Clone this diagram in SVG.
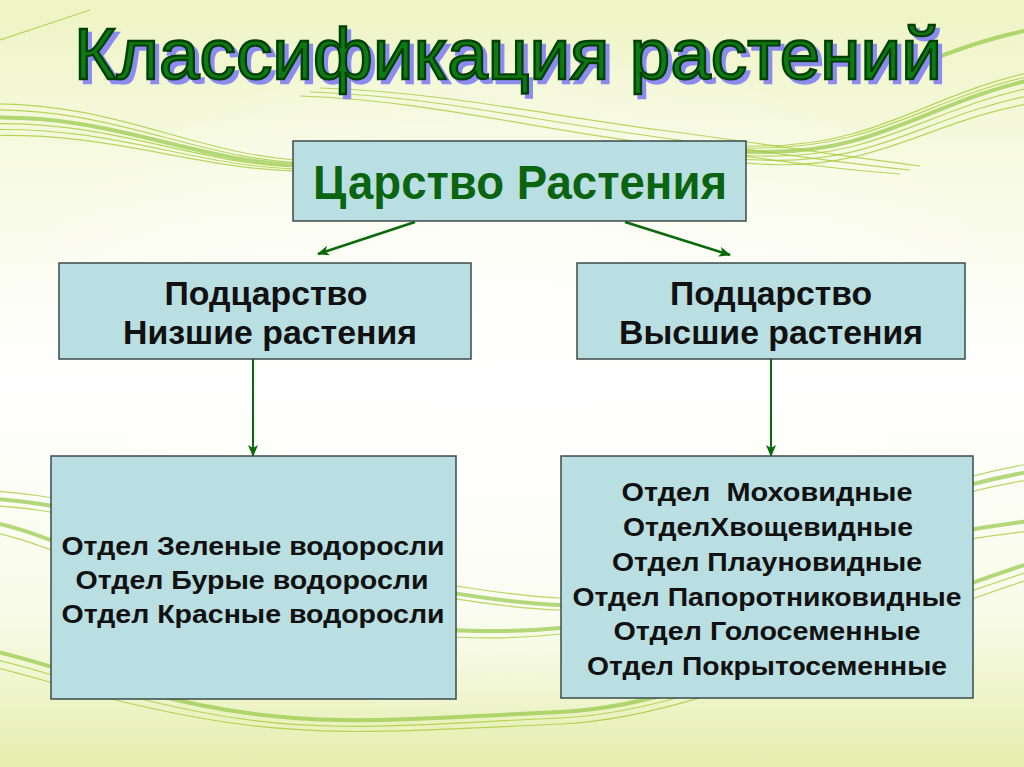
<svg xmlns="http://www.w3.org/2000/svg" width="1024" height="767" viewBox="0 0 1024 767">
<defs>
<linearGradient id="bg" x1="0" y1="0" x2="0" y2="1">
<stop offset="0" stop-color="#eef4c4"/>
<stop offset="0.25" stop-color="#f8fbe6"/>
<stop offset="0.5" stop-color="#ffffff"/>
<stop offset="0.8" stop-color="#f8fbe8"/>
<stop offset="1" stop-color="#e5eeae"/>
</linearGradient>
<radialGradient id="glow" cx="0.5" cy="0.5" r="0.55">
<stop offset="0" stop-color="#ffffff" stop-opacity="0.9"/>
<stop offset="1" stop-color="#ffffff" stop-opacity="0"/>
</radialGradient>
<filter id="shadow" x="-5%" y="-20%" width="110%" height="150%">
<feOffset in="SourceAlpha" dx="4" dy="4" result="o"/>
<feFlood flood-color="#8c8cf0"/>
<feComposite in2="o" operator="in" result="s"/>
<feMerge><feMergeNode in="s"/><feMergeNode in="SourceGraphic"/></feMerge>
</filter>
<marker id="ah" viewBox="0 0 12 10" refX="11" refY="5" markerWidth="12" markerHeight="10" markerUnits="userSpaceOnUse" orient="auto">
<path d="M0,0 L12,5 L0,10 L3,5 Z" fill="#0a6a0a"/>
</marker>
<style>
.box{fill:#badfe2;stroke:#3c4a4a;stroke-width:1.5}
.t{font-family:"Liberation Sans",Arial,sans-serif;font-weight:bold;text-anchor:middle;fill:#111}
.w{fill:none;stroke:#a8cc3c;stroke-width:1.2;opacity:0.8}
.wt{fill:none;stroke:#8cc43a;stroke-width:4;opacity:0.65}
.con{stroke:#0a6a0a;fill:none}
</style>
</defs>
<g id="background">
<rect x="0" y="0" width="1024" height="767" fill="url(#bg)"/>
<ellipse cx="512" cy="384" rx="520" ry="330" fill="url(#glow)"/>
<path class="wt" d="M-20 118 C120 112,200 168,320 165 S640 150,760 152 S930 100,1040 78"/>
<path class="w" d="M-20 104 C120 100,200 160,320 161 S640 146,760 146 S930 92,1040 70"/>
<path class="w" d="M-20 110 C120 106,200 164,320 163 S640 148,760 148 S930 96,1040 74"/>
<path class="w" d="M-20 124 C120 118,200 170,320 167 S640 152,760 156 S930 106,1040 86"/>
<path class="w" d="M-20 130 C120 124,200 172,320 169 S640 154,760 160 S930 112,1040 94"/>
<path class="w" d="M-20 136 C120 130,200 174,320 171 S640 156,760 164 S930 118,1040 102"/>
<path class="w" d="M300 96 C420 100,520 126,640 142 S820 168,900 174"/>
<path class="w" d="M310 92 C430 96,530 120,650 136 S830 162,910 170"/>
<path class="w" d="M320 88 C440 92,540 114,660 130 S840 156,920 166"/>
<path class="w" d="M0 40 C30 30,60 20,90 10"/>
<path class="wt" d="M930 60 C970 45,1000 35,1040 28"/>
<path class="wt" d="M-20 498 C20 500,50 504,120 520 S430 600,560 605 S850 500,1040 470"/>
<path class="w" d="M-20 490 C20 492,50 496,120 512 S430 592,560 598 S850 492,1040 462"/>
<path class="w" d="M-20 505 C20 507,50 510,120 526 S430 606,560 610 S850 506,1040 478"/>
<path class="wt" d="M-20 520 C30 528,60 546,160 580 S440 640,560 628 S850 540,1040 520"/>
<path class="w" d="M-20 530 C30 538,60 556,160 588 S440 648,560 634 S850 548,1040 530"/>
<path class="wt" d="M-20 648 C40 660,80 680,200 705 S420 718,560 712 S850 620,1040 560"/>
<path class="w" d="M-20 656 C40 668,80 688,200 712 S420 724,560 718 S850 628,1040 568"/>
<path class="w" d="M-20 664 C40 676,80 696,200 718 S420 730,560 724 S850 636,1040 576"/>
</g>
<g id="title" filter="url(#shadow)">
<text x="508" y="79" font-family="'Liberation Sans',Arial,sans-serif" font-size="73" text-anchor="middle" textLength="868" lengthAdjust="spacingAndGlyphs" fill="#0e7a12" stroke="#054006" stroke-width="2.4">Классификация растений</text>
</g>
<g id="connectors">
<line class="con" x1="415" y1="222" x2="318" y2="254" stroke-width="2.5" marker-end="url(#ah)"/>
<line class="con" x1="625" y1="222" x2="730" y2="255" stroke-width="2.5" marker-end="url(#ah)"/>
<line class="con" x1="253" y1="359" x2="253" y2="456" stroke-width="2" marker-end="url(#ah)"/>
<line class="con" x1="771" y1="359" x2="771" y2="456" stroke-width="2" marker-end="url(#ah)"/>
</g>
<g id="kingdom">
<rect class="box" x="293" y="141" width="453" height="80"/>
<text x="520" y="199" class="t" font-size="48" textLength="414" lengthAdjust="spacingAndGlyphs" style="fill:#0b6410">Царство Растения</text>
</g>
<g id="lower">
<rect class="box" x="59" y="263" width="412" height="96"/>
<text x="266" y="305" class="t" font-size="33" textLength="203" lengthAdjust="spacingAndGlyphs">Подцарство</text>
<text x="270" y="344" class="t" font-size="33" textLength="294" lengthAdjust="spacingAndGlyphs">Низшие растения</text>
</g>
<g id="higher">
<rect class="box" x="577" y="263" width="388" height="96"/>
<text x="771" y="305" class="t" font-size="33" textLength="202" lengthAdjust="spacingAndGlyphs">Подцарство</text>
<text x="771" y="344" class="t" font-size="33" textLength="304" lengthAdjust="spacingAndGlyphs">Высшие растения</text>
</g>
<g id="algae">
<rect class="box" x="51" y="456" width="405" height="243"/>
<text x="253" y="555" class="t" font-size="26.5" textLength="383" lengthAdjust="spacingAndGlyphs">Отдел Зеленые водоросли</text>
<text x="252" y="589" class="t" font-size="26.5" textLength="353" lengthAdjust="spacingAndGlyphs">Отдел Бурые водоросли</text>
<text x="253" y="623" class="t" font-size="26.5" textLength="383" lengthAdjust="spacingAndGlyphs">Отдел Красные водоросли</text>
</g>
<g id="divisions">
<rect class="box" x="561" y="456" width="412" height="242"/>
<text x="767" y="501" class="t" font-size="26.5" textLength="291" lengthAdjust="spacingAndGlyphs" xml:space="preserve">Отдел  Моховидные</text>
<text x="768" y="536" class="t" font-size="26.5" textLength="290" lengthAdjust="spacingAndGlyphs">ОтделХвощевидные</text>
<text x="767" y="571" class="t" font-size="26.5" textLength="310" lengthAdjust="spacingAndGlyphs">Отдел Плауновидные</text>
<text x="767" y="606" class="t" font-size="26.5" textLength="389" lengthAdjust="spacingAndGlyphs">Отдел Папоротниковидные</text>
<text x="767" y="640" class="t" font-size="26.5" textLength="307" lengthAdjust="spacingAndGlyphs">Отдел Голосеменные</text>
<text x="767" y="675" class="t" font-size="26.5" textLength="360" lengthAdjust="spacingAndGlyphs">Отдел Покрытосеменные</text>
</g>
</svg>
